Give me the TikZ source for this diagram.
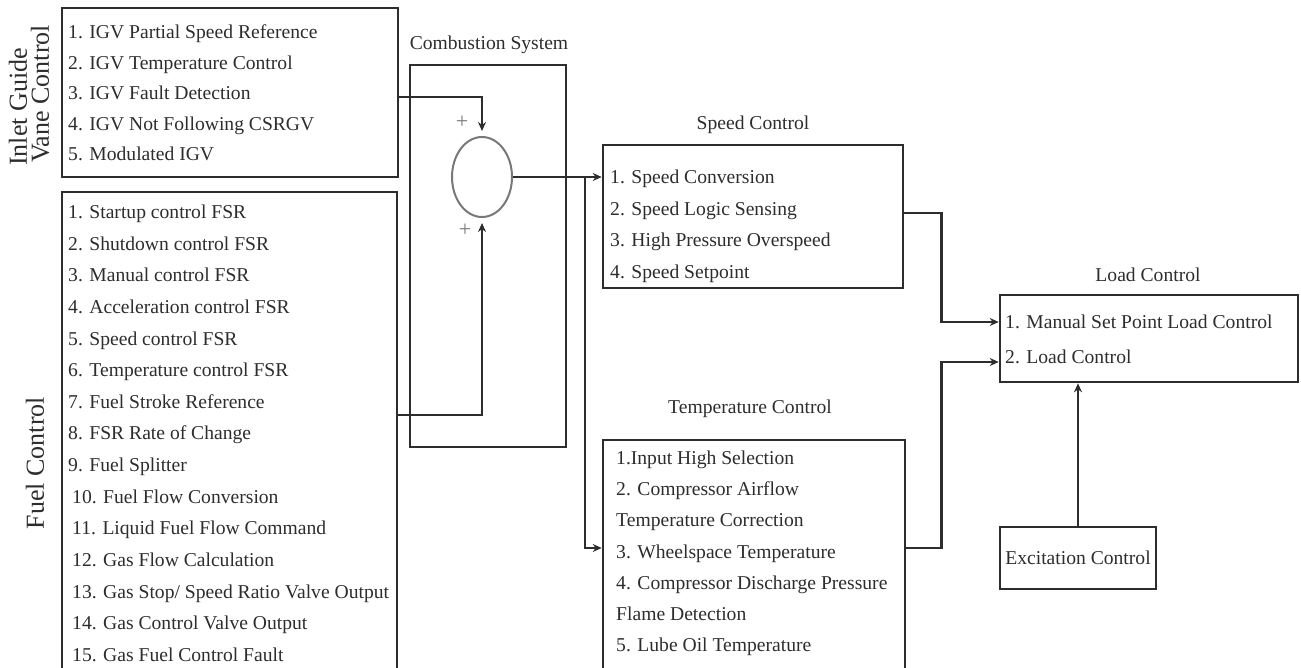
\documentclass[tikz,border=0pt]{standalone}
\usepackage{fontspec}
\setmainfont{Liberation Serif}
\usepackage{tikz}
\usetikzlibrary{positioning,arrows.meta,shapes.geometric}
\definecolor{inkgray}{RGB}{45,45,45}
\definecolor{ringgray}{RGB}{120,120,120}
\tikzset{
  blk/.style={draw=inkgray,line width=2.6pt,inner sep=0pt},
  conn/.style={draw=inkgray,line width=2.6pt,-{Stealth[length=9pt,width=8pt]}},
  item/.style={font=\fontsize{19.6}{22}\selectfont,text=inkgray,inner sep=0pt,anchor=base west},
  ttl/.style={font=\fontsize{19.6}{22}\selectfont,text=inkgray,inner sep=0pt,anchor=base},
  side/.style={font=\fontsize{26}{22}\selectfont,text=inkgray,inner sep=0pt,rotate=90},
  sgn/.style={font=\fontsize{22}{24}\selectfont,text=ringgray,inner sep=0pt}
}
\begin{document}
\begin{tikzpicture}[x=1pt,y=-1pt]
  \clip (0,0) rectangle (1301,668);
  % boxes
  \node[blk,minimum width=336,minimum height=169] (igv) at (230,92.5) {};
  \node[blk,minimum width=335,minimum height=508] (fuel) at (229.5,446) {};
  \node[blk,minimum width=156,minimum height=382] (comb) at (488,256) {};
  \node[blk,minimum width=300,minimum height=143] (speed) at (753,216.5) {};
  \node[blk,minimum width=302,minimum height=260] (temp) at (754,570) {};
  \node[blk,minimum width=298,minimum height=87] (load) at (1149,338.5) {};
  \node[blk,minimum width=156,minimum height=62,font=\fontsize{19.6}{22}\selectfont,text=inkgray] (exc) at (1078,558) {Excitation Control};
  \node[ellipse,draw=ringgray,line width=2pt,minimum width=60,minimum height=80,inner sep=0pt] (sum) at (482,177) {};
  \node[sgn] (p1) at (462,122) {+};
  \node[sgn] (p2) at (465,230) {+};
  % titles
  \node[side] (igvl1) at (18,107) {Inlet Guide};
  \node[side] (igvl2) at (40,94) {Vane Control};
  \node[side] (fuell) at (35,463) {Fuel Control};
  \node[ttl] (combt) at (489,49.5) {Combustion System};
  \node[ttl] (speedt) at (753,129.5) {Speed Control};
  \node[ttl] (tempt) at (750,413.5) {Temperature Control};
  \node[ttl] (loadt) at (1148,281.5) {Load Control};
  % list texts
  \foreach \t [count=\i] in {1. IGV Partial Speed Reference,2. IGV Temperature Control,3. IGV Fault Detection,4. IGV Not Following CSRGV,5. Modulated IGV}
    \node[item] (igv\i) at (68,{38.5+(\i-1)*30.6}) {\t};
  \foreach \t [count=\i] in {1. Startup control FSR,2. Shutdown control FSR,3. Manual control FSR,4. Acceleration control FSR,5. Speed control FSR,6. Temperature control FSR,7. Fuel Stroke Reference,8. FSR Rate of Change,9. Fuel Splitter,10. Fuel Flow Conversion,11. Liquid Fuel Flow Command,12. Gas Flow Calculation,13. Gas Stop/ Speed Ratio Valve Output,14. Gas Control Valve Output,15. Gas Fuel Control Fault}
    \node[item] (fuel\i) at ({\i<10 ? 68 : 72},{218.5+(\i-1)*31.64}) {\t};
  \foreach \t [count=\i] in {1. Speed Conversion,2. Speed Logic Sensing,3. High Pressure Overspeed,4. Speed Setpoint}
    \node[item] (sc\i) at (610,{183.5+(\i-1)*31.7}) {\t};
  \foreach \t [count=\i] in {1.Input High Selection,2. Compressor Airflow,Temperature Correction,3. Wheelspace Temperature,4. Compressor Discharge Pressure,Flame Detection,5. Lube Oil Temperature}
    \node[item] (tc\i) at (616,{464.5+(\i-1)*31.2}) {\t};
  \node[item] (ld1) at (1005,328.5) {1. Manual Set Point Load Control};
  \node[item] (ld2) at (1005,363.5) {2. Load Control};
  % connectors
  \coordinate (split) at ([xshift=72pt]sum.east);
  \draw[conn,shorten >=5pt] ([yshift=-4.5pt]igv.east) -| (sum.north);
  \draw[conn,shorten >=5pt] ([yshift=31pt]fuel.east) -| (sum.south);
  \draw[conn] (sum.east) -- (sum.east -| speed.west);
  \draw[conn] (split) |- ([yshift=22pt]temp.west);
  \draw[conn] ([yshift=3.5pt]speed.east) -- ++(37,0) |- ([yshift=16.5pt]load.west);
  \draw[conn] ([yshift=22pt]temp.east) -- ++(35,0) |- ([yshift=-23.5pt]load.west);
  \draw[conn] (exc.north) -- (exc.north |- load.south);
\end{tikzpicture}
\end{document}
